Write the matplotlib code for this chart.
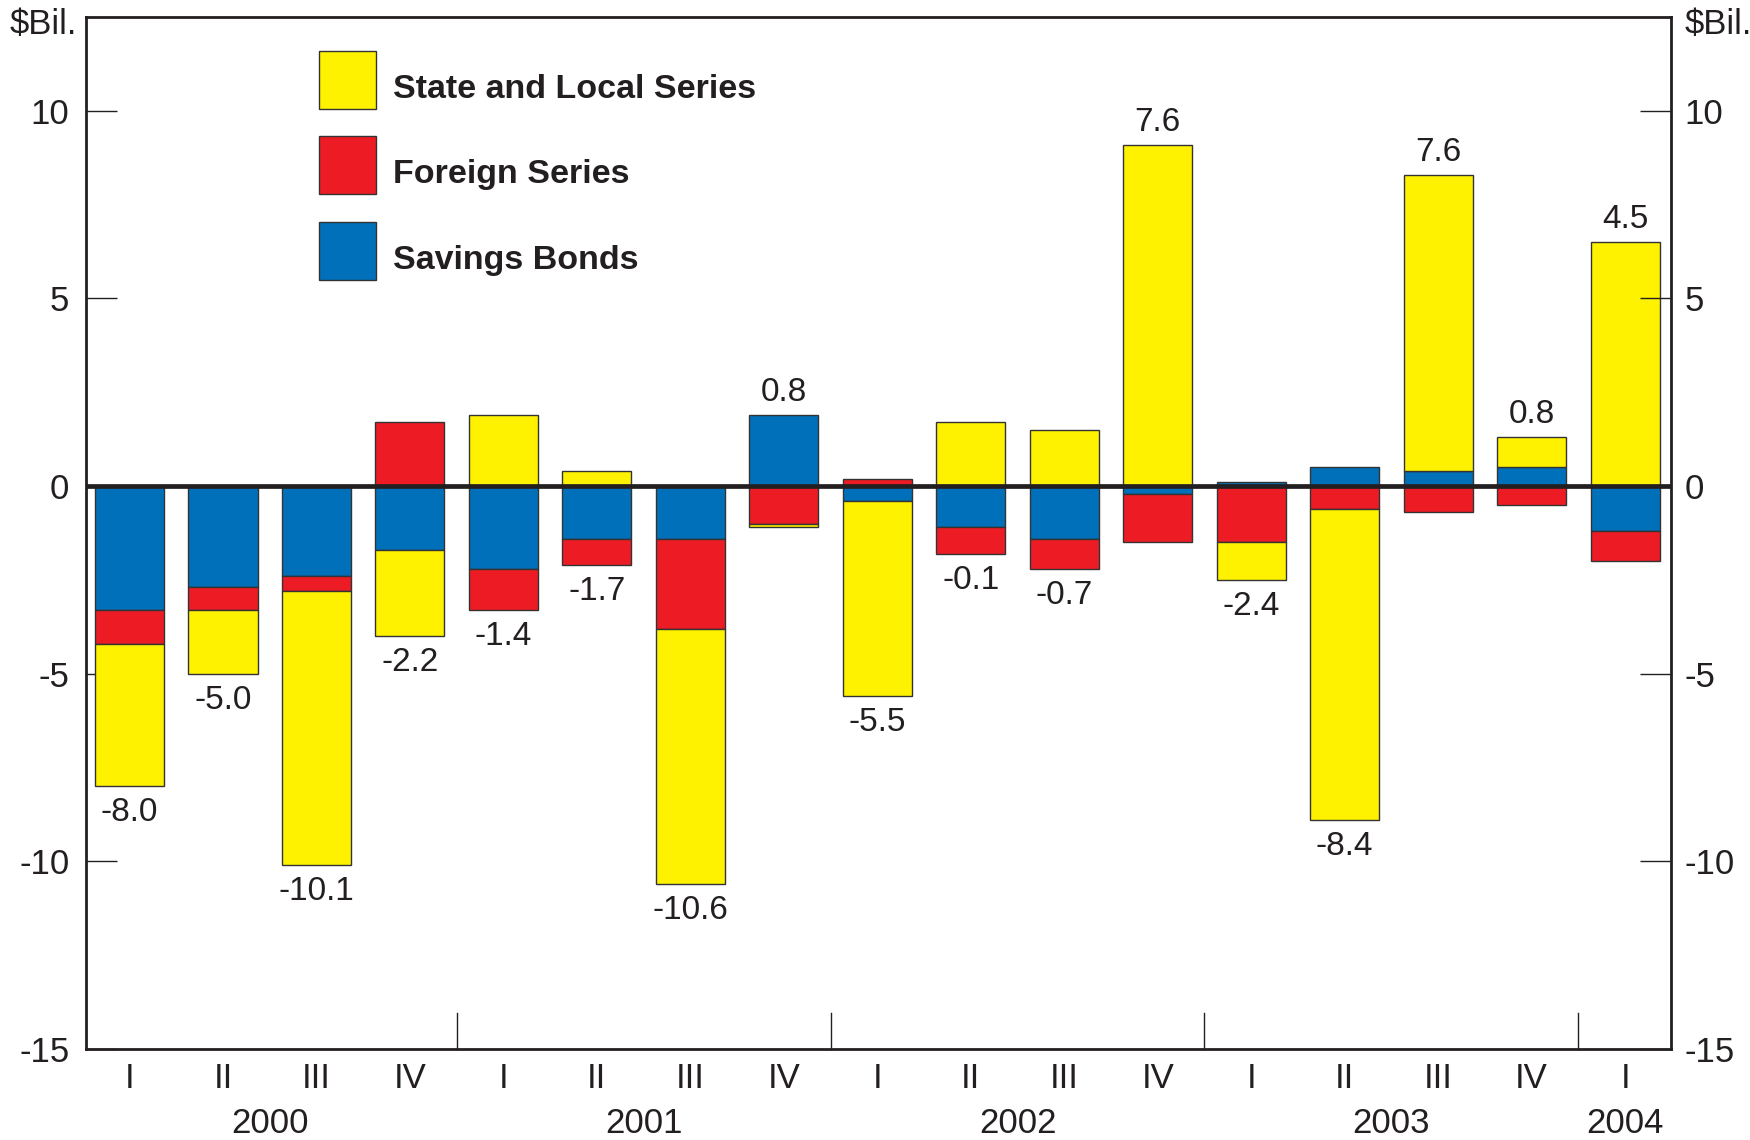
import matplotlib
matplotlib.use("Agg")
import matplotlib.pyplot as plt
import numpy as np
from matplotlib.patches import Rectangle

quarters = ["I", "II", "III", "IV", "I", "II", "III", "IV", "I", "II", "III", "IV",
            "I", "II", "III", "IV", "I"]
years = ["2000", "2001", "2002", "2003", "2004"]
year_pos = [1.5, 5.5, 9.5, 13.5, 16.0]
year_breaks = [3.5, 7.5, 11.5, 15.5]

savings = [-3.3, -2.7, -2.4, -1.7, -2.2, -1.4, -1.4, 1.9, -0.4, -1.1, -1.4, -0.2,
           0.1, 0.5, 0.4, 0.5, -1.2]
foreign = [-0.9, -0.6, -0.4, 1.7, -1.1, -0.7, -2.4, -1.0, 0.2, -0.7, -0.8, -1.3,
           -1.5, -0.6, -0.7, -0.5, -0.8]
state = [-3.8, -1.7, -7.3, -2.3, 1.9, 0.4, -6.8, -0.1, -5.2, 1.7, 1.5, 9.1,
         -1.0, -8.3, 7.9, 0.8, 6.5]
totals = [-8.0, -5.0, -10.1, -2.2, -1.4, -1.7, -10.6, 0.8, -5.5, -0.1, -0.7, 7.6,
          -2.4, -8.4, 7.6, 0.8, 4.5]

series = [("Savings Bonds", savings, "#0070BA"),
          ("Foreign Series", foreign, "#ED1C24"),
          ("State and Local Series", state, "#FFF200")]
legend_order = ["State and Local Series", "Foreign Series", "Savings Bonds"]

yticks = [10, 5, 0, -5, -10, -15]

SANS = ["Liberation Sans", "DejaVu Sans"]
INK = "#231F20"
TICK_FS = 25

fig = plt.figure(figsize=(17.5, 11.4), dpi=100)
ax = fig.add_axes([0.0491, 0.0798, 0.9057, 0.9053])

x = np.arange(len(quarters))
width = 0.74
pos_base = np.zeros(len(x))
neg_base = np.zeros(len(x))
for name, vals, col in series:
    v = np.array(vals, dtype=float)
    bottom = np.where(v >= 0, pos_base, neg_base)
    ax.bar(x, v, width=width, bottom=bottom, color=col, edgecolor="#333333",
           linewidth=1.0, zorder=2)
    pos_base = pos_base + np.where(v >= 0, v, 0)
    neg_base = neg_base + np.where(v < 0, v, 0)

for i, t in enumerate(totals):
    if t >= 0:
        ax.annotate(f"{t:.1f}", (x[i], pos_base[i]), xytext=(0, 5),
                    textcoords="offset points", ha="center", va="bottom",
                    fontsize=24, color=INK, family=SANS)
    else:
        ax.annotate(f"{t:.1f}", (x[i], neg_base[i]), xytext=(0, -8),
                    textcoords="offset points", ha="center", va="top",
                    fontsize=24, color=INK, family=SANS)

ax.axhline(0, color=INK, lw=3.4, zorder=4)

ax.set_xlim(-0.466, 16.49)
ax.set_ylim(-15, 12.5)

for s in ax.spines.values():
    s.set_linewidth(2.0)
    s.set_color(INK)

ax.set_yticks(yticks)
ax.set_yticklabels([str(v) for v in yticks], family=SANS, fontsize=TICK_FS, color=INK)
ax.tick_params(axis="y", direction="in", length=22, width=1.0, pad=12, colors=INK,
               left=True, right=False)
ax2 = ax.twinx()
ax2.set_ylim(ax.get_ylim())
ax2.set_yticks(yticks)
ax2.set_yticklabels([str(v) for v in yticks], family=SANS, fontsize=TICK_FS, color=INK)
ax2.tick_params(axis="y", direction="in", length=22, width=1.0, pad=10, colors=INK)
for s in ax2.spines.values():
    s.set_visible(False)

ax.set_xticks(x)
ax.set_xticklabels(quarters, family=SANS, fontsize=TICK_FS, color=INK)
ax.tick_params(axis="x", length=0, pad=9)

xt = ax.get_xaxis_transform()
for yb in year_breaks:
    ax.plot([yb, yb], [0, 0.035], transform=xt, color=INK, lw=1.0, zorder=5,
            clip_on=False)
for lab, xp in zip(years, year_pos):
    ax.text(xp, -0.072, lab, transform=xt, ha="center", va="center",
            family=SANS, fontsize=TICK_FS, color=INK)

fig.text(10 / 1750, 1 - 24 / 1140, r"\$Bil.", ha="left", va="center",
         family=SANS, fontsize=TICK_FS, color=INK)
fig.text(1685 / 1750, 1 - 24 / 1140, r"\$Bil.", ha="left", va="center",
         family=SANS, fontsize=TICK_FS, color=INK)

# legend
colors = {n: c for n, _, c in series}
row_centers = [80, 165, 251]
for name, cy in zip(legend_order, row_centers):
    fig.patches.append(Rectangle((319 / 1750, 1 - (cy + 28.5) / 1140), 57 / 1750, 57 / 1140,
                                 transform=fig.transFigure, facecolor=colors[name],
                                 edgecolor="#333333", linewidth=1.0))
    fig.text(393 / 1750, 1 - (cy + 10) / 1140, name, ha="left", va="center",
             family=SANS, fontsize=24.5, fontweight="bold", color=INK)

fig.savefig("out.png", dpi=100)
